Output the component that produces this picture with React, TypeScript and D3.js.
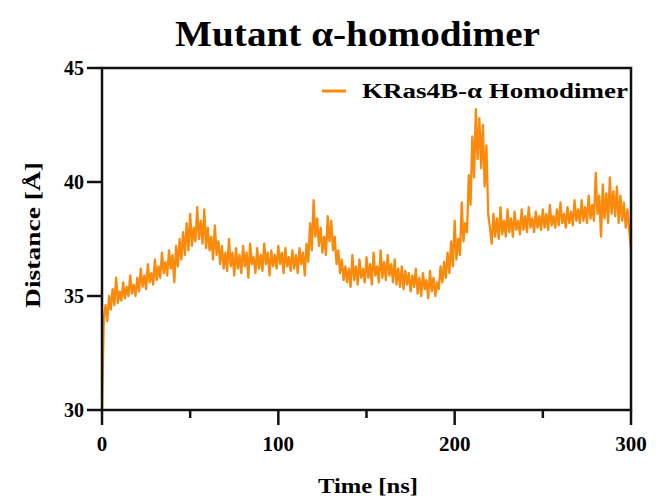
import React from "react";
import * as d3 from "d3";

const times: number[] = Array.from({ length: 301 }, (_, i) => i);
const distance: number[] = [
  30.0, 34.0, 34.6, 33.9, 35.0, 34.4, 35.3, 34.6, 35.8, 34.7,
  35.2, 34.8, 35.6, 34.9, 35.4, 35.0, 35.9, 35.1, 35.5, 35.0,
  35.8, 35.2, 36.2, 35.4, 35.9, 35.3, 36.4, 35.6, 36.0, 35.5,
  36.6, 35.7, 36.3, 35.8, 36.9, 36.0, 36.5, 35.9, 37.0, 36.2,
  36.8, 35.6, 37.2, 36.3, 37.5, 36.6, 37.8, 36.8, 38.2, 37.0,
  38.6, 37.2, 38.0, 37.4, 38.9, 37.5, 38.3, 37.3, 38.8, 37.1,
  38.0, 37.0, 37.6, 36.6, 38.1, 36.8, 37.4, 36.4, 37.2, 36.2,
  36.9, 36.1, 37.5, 36.3, 36.9, 35.9, 37.1, 36.2, 36.8, 36.0,
  37.2, 36.3, 36.9, 35.8, 37.3, 36.4, 36.7, 36.0, 37.1, 36.2,
  36.8, 36.1, 37.3, 36.4, 36.9, 35.9, 37.0, 36.3, 36.8, 36.2,
  37.2, 36.4, 36.9, 36.0, 37.1, 36.3, 36.7, 36.1, 37.0, 36.2,
  36.8, 36.0, 37.1, 36.4, 36.9, 35.9, 37.3, 36.5, 38.2, 37.0,
  39.2, 37.6, 38.4, 37.2, 38.0, 36.9, 37.6, 36.8, 38.5, 37.4,
  38.3, 37.0, 37.6, 36.4, 37.0, 36.0, 36.6, 35.7, 36.3, 35.6,
  36.2, 35.4, 36.8, 35.7, 36.3, 35.5, 36.6, 35.8, 36.2, 35.6,
  36.7, 35.8, 36.4, 35.5, 36.9, 35.9, 36.3, 35.6, 37.0, 35.8,
  36.5, 35.7, 36.8, 35.9, 36.4, 35.6, 36.6, 35.5, 36.2, 35.4,
  36.3, 35.3, 36.1, 35.5, 36.0, 35.2, 35.9, 35.4, 36.2, 35.1,
  35.8, 35.0, 36.0, 35.3, 35.7, 34.9, 36.1, 35.2, 35.8, 35.0,
  35.6, 35.3, 36.3, 35.6, 36.5, 35.8, 36.9, 36.0, 37.4, 36.3,
  38.3, 36.6, 37.5, 36.8, 39.1, 37.4, 38.2, 37.8, 40.3, 39.0,
  42.0, 40.2, 43.2, 41.0, 42.8, 40.6, 42.5, 39.8, 41.6, 38.6,
  38.0, 37.3, 38.6, 37.6, 38.4, 37.5, 38.9, 37.7, 38.3, 37.6,
  38.8, 37.8, 38.4, 37.6, 38.7, 37.9, 38.3, 37.7, 38.8, 37.9,
  38.5, 37.8, 38.9, 38.0, 38.4, 37.8, 38.7, 38.0, 38.5, 37.9,
  38.8, 38.0, 38.6, 37.9, 39.0, 38.1, 38.5, 38.0, 38.8, 38.1,
  39.1, 38.2, 38.6, 38.0, 38.9, 38.2, 38.7, 38.1, 39.2, 38.3,
  38.8, 38.2, 39.2, 38.3, 38.9, 38.2, 39.4, 38.4, 39.0, 38.3,
  40.4, 38.6, 39.4, 37.6, 39.9, 38.4, 39.5, 38.2, 40.2, 38.6,
  39.6, 38.5, 39.8, 38.2, 39.4, 38.3, 39.1, 38.0, 38.8, 37.9,
  37.0,
];
const xMajorTicks: number[] = [0, 100, 200, 300];
const xMinorTicks: number[] = [50, 150, 250];
const yTicks: number[] = [30, 35, 40, 45];
const title = "Mutant α-homodimer";
const seriesName = "KRas4B-α Homodimer";
const xLabel = "Time [ns]";
const yLabel = "Distance [Å]";

const W = 660;
const H = 504;
const left = 102;
const right = 631;
const top = 68;
const bottom = 410;
const color = "#FA8A0C";
const font = "'Liberation Serif', 'Times New Roman', serif";

export default function App() {
  const x = d3.scaleLinear().domain([0, 300]).range([left, right]);
  const y = d3.scaleLinear().domain([30, 45]).range([bottom, top]);
  const line = d3
    .line<number>()
    .x((_, i) => x(times[i]))
    .y((d) => y(d));
  const path = line(distance) || "";

  return (
    <svg
      width={W}
      height={H}
      style={{ position: "absolute", left: 0, top: 0, background: "#fff" }}
    >
      <text
        x={175}
        y={46}
        fontFamily={font}
        fontWeight="bold"
        fontSize={35}
        textLength={365}
        lengthAdjust="spacingAndGlyphs"
      >
        {title}
      </text>
      <path d={path} fill="none" stroke={color} strokeWidth={2.3} strokeLinejoin="round" />
      {/* frame */}
      <path
        d={`M${left},${bottom}V${top}H${right}V${bottom}H${left}`}
        fill="none"
        stroke="#111"
        strokeWidth={2.5}
      />
      {yTicks.map((t) => (
        <g key={"y" + t}>
          <line x1={left - 15} x2={left} y1={y(t)} y2={y(t)} stroke="#111" strokeWidth={2.5} />
          <text
            x={left - 18}
            y={y(t)}
            dy="0.35em"
            textAnchor="end"
            fontFamily={font}
            fontWeight="bold"
            fontSize={20}
          >
            {t}
          </text>
        </g>
      ))}
      {xMajorTicks.map((t) => (
        <g key={"x" + t}>
          <line x1={x(t)} x2={x(t)} y1={bottom} y2={bottom + 15} stroke="#111" strokeWidth={2.5} />
          <text
            x={x(t)}
            y={bottom + 41}
            textAnchor="middle"
            fontFamily={font}
            fontWeight="bold"
            fontSize={21}
          >
            {t}
          </text>
        </g>
      ))}
      {xMinorTicks.map((t) => (
        <line key={"m" + t} x1={x(t)} x2={x(t)} y1={bottom} y2={bottom + 8} stroke="#111" strokeWidth={2.5} />
      ))}
      <text
        x={318}
        y={493}
        fontFamily={font}
        fontWeight="bold"
        fontSize={22}
        textLength={100}
        lengthAdjust="spacingAndGlyphs"
      >
        {xLabel}
      </text>
      <text
        transform={`translate(40,${308}) rotate(-90)`}
        fontFamily={font}
        fontWeight="bold"
        fontSize={22}
        textLength={146}
        lengthAdjust="spacingAndGlyphs"
      >
        {yLabel}
      </text>
      <line x1={322} x2={346} y1={91} y2={91} stroke={color} strokeWidth={3} />
      <text
        x={362}
        y={98}
        fontFamily={font}
        fontWeight="bold"
        fontSize={20}
        textLength={266}
        lengthAdjust="spacingAndGlyphs"
      >
        {seriesName}
      </text>
    </svg>
  );
}
